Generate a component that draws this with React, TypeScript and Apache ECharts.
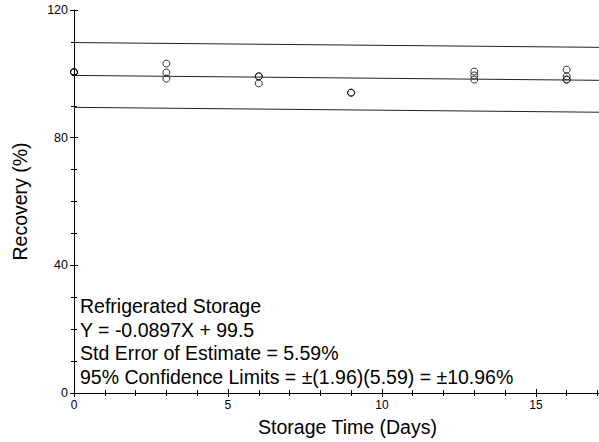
import React, { useEffect, useRef } from "react";
import * as echarts from "echarts";

const xTickLabels = ["0", "5", "10", "15"];
const yTickLabels = ["0", "40", "80", "120"];

const pointDays = [0, 0, 0, 3, 3, 3, 6, 6, 6, 9, 9, 13, 13, 13, 16, 16, 16, 16];
const pointRecovery = [100.5, 100.5, 100.5, 103.2, 100.4, 98.5, 99.2, 99.2, 97.0, 94.1, 94.1, 100.7, 99.5, 98.2, 101.3, 99.2, 98.2, 98.2];

const lineDays = [0, 17.05];
const upperLimit = [109.8, 108.3];
const fitLine = [99.5, 97.97];
const lowerLimit = [89.5, 87.97];

const annotationLines = [
  "Refrigerated Storage",
  "Y = -0.0897X + 99.5",
  "Std Error of Estimate = 5.59%",
  "95% Confidence Limits = \u00b1(1.96)(5.59) = \u00b110.96%",
];

const FONT = "'Liberation Sans', Arial, sans-serif";

export default function App() {
  const ref = useRef<HTMLDivElement>(null);
  useEffect(() => {
    if (!ref.current) return;
    const chart = echarts.init(ref.current, null, { renderer: "svg" });
    const pts = pointDays.map((d, i) => [d, pointRecovery[i]]);
    const mk = (arr: number[]) => lineDays.map((d, i) => [d, arr[i]]);
    const xMin = 0, xMax = 17.05;
    const lineStyle = { color: "#222", width: 1 };
    const axisCommon = {
      axisLine: { show: true, lineStyle: { color: "#000", width: 1 } },
      splitLine: { show: false },
    };
    chart.setOption({
      animation: false,
      textStyle: { fontFamily: FONT },
      grid: { left: 74, top: 10, right: 0, bottom: 49, containLabel: false },
      xAxis: [
        {
          type: "value",
          min: xMin,
          max: xMax,
          interval: 5,
          position: "bottom",
          ...axisCommon,
          axisTick: { show: true, inside: true, length: 4, lineStyle: { color: "#000" } },
          minorTick: { show: true, splitNumber: 5, length: 3, lineStyle: { color: "#000" } },
          axisLabel: {
            color: "#000",
            fontSize: 12,
            fontFamily: FONT,
            margin: 6,
            showMaxLabel: false,
            formatter: (v: number) => (xTickLabels.includes(String(v)) ? String(v) : ""),
          },
          name: "Storage Time (Days)",
          nameLocation: "middle",
          nameGap: 24,
          nameTextStyle: { color: "#000", fontSize: 19.5, fontFamily: FONT, padding: [0, 0, 0, 22] },
        },
        {
          type: "value",
          min: xMin,
          max: xMax,
          interval: 5,
          position: "top",
          ...axisCommon,
          axisTick: { show: true, inside: true, length: 4, lineStyle: { color: "#000" } },
          minorTick: { show: true, splitNumber: 5, length: 3, lineStyle: { color: "#000" } },
          axisLabel: { show: false },
        },
      ],
      yAxis: [
        {
          type: "value",
          min: 0,
          max: 120,
          interval: 40,
          position: "left",
          ...axisCommon,
          axisTick: { show: true, inside: true, length: 4, lineStyle: { color: "#000" } },
          minorTick: { show: true, splitNumber: 4, length: 3, lineStyle: { color: "#000" } },
          axisLabel: {
            color: "#000",
            fontSize: 12.5,
            fontFamily: FONT,
            margin: 6,
            formatter: (v: number) => (yTickLabels.includes(String(v)) ? String(v) : ""),
          },
          name: "Recovery (%)",
          nameLocation: "middle",
          nameRotate: 90,
          nameGap: 44,
          nameTextStyle: { color: "#000", fontSize: 19.5, fontFamily: FONT },
        },
        {
          type: "value",
          min: 0,
          max: 120,
          interval: 40,
          position: "right",
          axisLine: { show: false },
          splitLine: { show: false },
          axisTick: { show: true, inside: true, length: 4, lineStyle: { color: "#000" } },
          minorTick: { show: true, splitNumber: 4, length: 3, lineStyle: { color: "#000" } },
          axisLabel: { show: false },
        },
      ],
      series: [
        { type: "line", data: mk(upperLimit), symbol: "none", lineStyle, silent: true },
        { type: "line", data: mk(fitLine), symbol: "none", lineStyle, silent: true },
        { type: "line", data: mk(lowerLimit), symbol: "none", lineStyle, silent: true },
        {
          type: "scatter",
          data: pts,
          symbol: "circle",
          symbolSize: 7,
          clip: true,
          itemStyle: { color: "rgba(0,0,0,0)", borderColor: "#000", borderWidth: 1 },
        },
      ],
      graphic: annotationLines.map((t, i) => ({
        type: "text",
        left: 80,
        top: 296 + i * 23.5,
        style: { text: t, font: `19.5px ${FONT}`, fill: "#000" },
      })),
    });
    return () => chart.dispose();
  }, []);
  return (
    <div
      ref={ref}
      style={{ position: "fixed", left: 0, top: 0, width: 599, height: 442, background: "#fff" }}
    />
  );
}
